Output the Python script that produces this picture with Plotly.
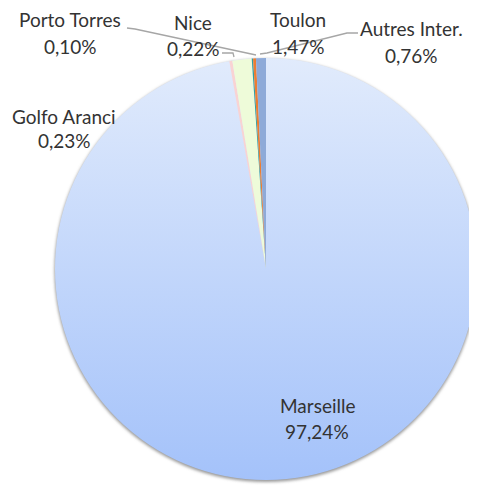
import base64

import plotly.graph_objects as go

# the page body adds an 8px margin, so the figure is drawn 8px smaller and
# every pixel position measured on the reference is shifted by that amount
OFF = 8
W, H = 477 - OFF, 486 - OFF

# data (clockwise from 12 o'clock)
ports = ["Marseille", "Golfo Aranci", "Toulon", "Porto Torres", "Nice", "Autres Inter."]
shares = [97.24, 0.23, 1.47, 0.10, 0.22, 0.76]
colors = ["rgba(0,0,0,0)", "#f9d3d3", "#eefbd9", "#2f9ea3", "#ed7d31", "#8eaad8"]

# label centres in reference pixels (x, name line y, value line y)
label_pos = {
    "Porto Torres": (70, 20, 46),
    "Nice": (193, 22, 48),
    "Toulon": (298, 20, 46),
    "Autres Inter.": (411, 29, 55),
    "Golfo Aranci": (64, 116, 141),
    "Marseille": (317, 405, 431),
}

# pie geometry in reference px
cx, cy, r = 266, 269, 211


def px(x):
    return min(1.0, max(0.0, (x - OFF) / W))


def py(y):
    return min(1.0, max(0.0, 1 - (y - OFF) / H))


def fmt(v):
    return f"{v:.2f}".replace(".", ",") + "%"


fig = go.Figure(
    go.Pie(
        labels=ports,
        values=shares,
        sort=False,
        direction="clockwise",
        rotation=0,
        marker=dict(colors=colors, line=dict(width=0)),
        textinfo="none",
        hoverinfo="label+percent",
        domain=dict(x=[px(cx - r), px(cx + r)], y=[py(cy + r), py(cy - r)]),
        showlegend=False,
    )
)

# gradient disc underneath the big slice
svg = f"""<svg xmlns='http://www.w3.org/2000/svg' width='{2*r+10}' height='{2*r+10}'>
<defs>
<linearGradient id='g' x1='0' y1='0' x2='0' y2='1'>
<stop offset='0' stop-color='#e1ebfc'/>
<stop offset='1' stop-color='#a4c2fa'/>
</linearGradient>
<filter id='s' x='-10%' y='-10%' width='120%' height='120%'><feGaussianBlur stdDeviation='1.5'/></filter>
</defs>
<circle cx='{r+5}' cy='{r+6.5}' r='{r+0.5}' fill='#9a9a9a' filter='url(#s)'/>
<circle cx='{r+5}' cy='{r+5}' r='{r}' fill='url(#g)'/>
</svg>"""
src = "data:image/svg+xml;base64," + base64.b64encode(svg.encode()).decode()
fig.add_layout_image(
    source=src, xref="paper", yref="paper",
    x=(cx - r - 5 - OFF) / W, y=1 - (cy - r - 5 - OFF) / H,
    sizex=(2 * r + 10) / W, sizey=(2 * r + 10) / H,
    xanchor="left", yanchor="top", sizing="stretch", layer="below",
)

font = dict(family="Lato, 'Open Sans', sans-serif", size=19, color="#333333")
for name, v in zip(ports, shares):
    x0, y1, y2 = label_pos[name]
    for txt, yy in ((name, y1), (fmt(v), y2)):
        fig.add_annotation(
            x=px(x0), y=py(yy), xref="paper", yref="paper",
            text=txt, showarrow=False, font=font,
            xanchor="center", yanchor="middle",
        )

# leader lines
lines = [
    [(127, 28), (135, 29), (256, 55)],
    [(358, 33), (347, 33), (267, 53), (260, 54)],
    [(222, 53), (233, 53), (234, 57)],
]
for pts in lines:
    path = "M " + " L ".join(f"{px(a):.5f},{py(b):.5f}" for a, b in pts)
    fig.add_shape(type="path", path=path, xref="paper", yref="paper",
                  line=dict(color="#a6a6a6", width=1.3))

fig.update_layout(
    width=W, height=H,
    margin=dict(l=0, r=0, t=0, b=0),
    paper_bgcolor="white", plot_bgcolor="white",
)

fig.write_html("out.html")
